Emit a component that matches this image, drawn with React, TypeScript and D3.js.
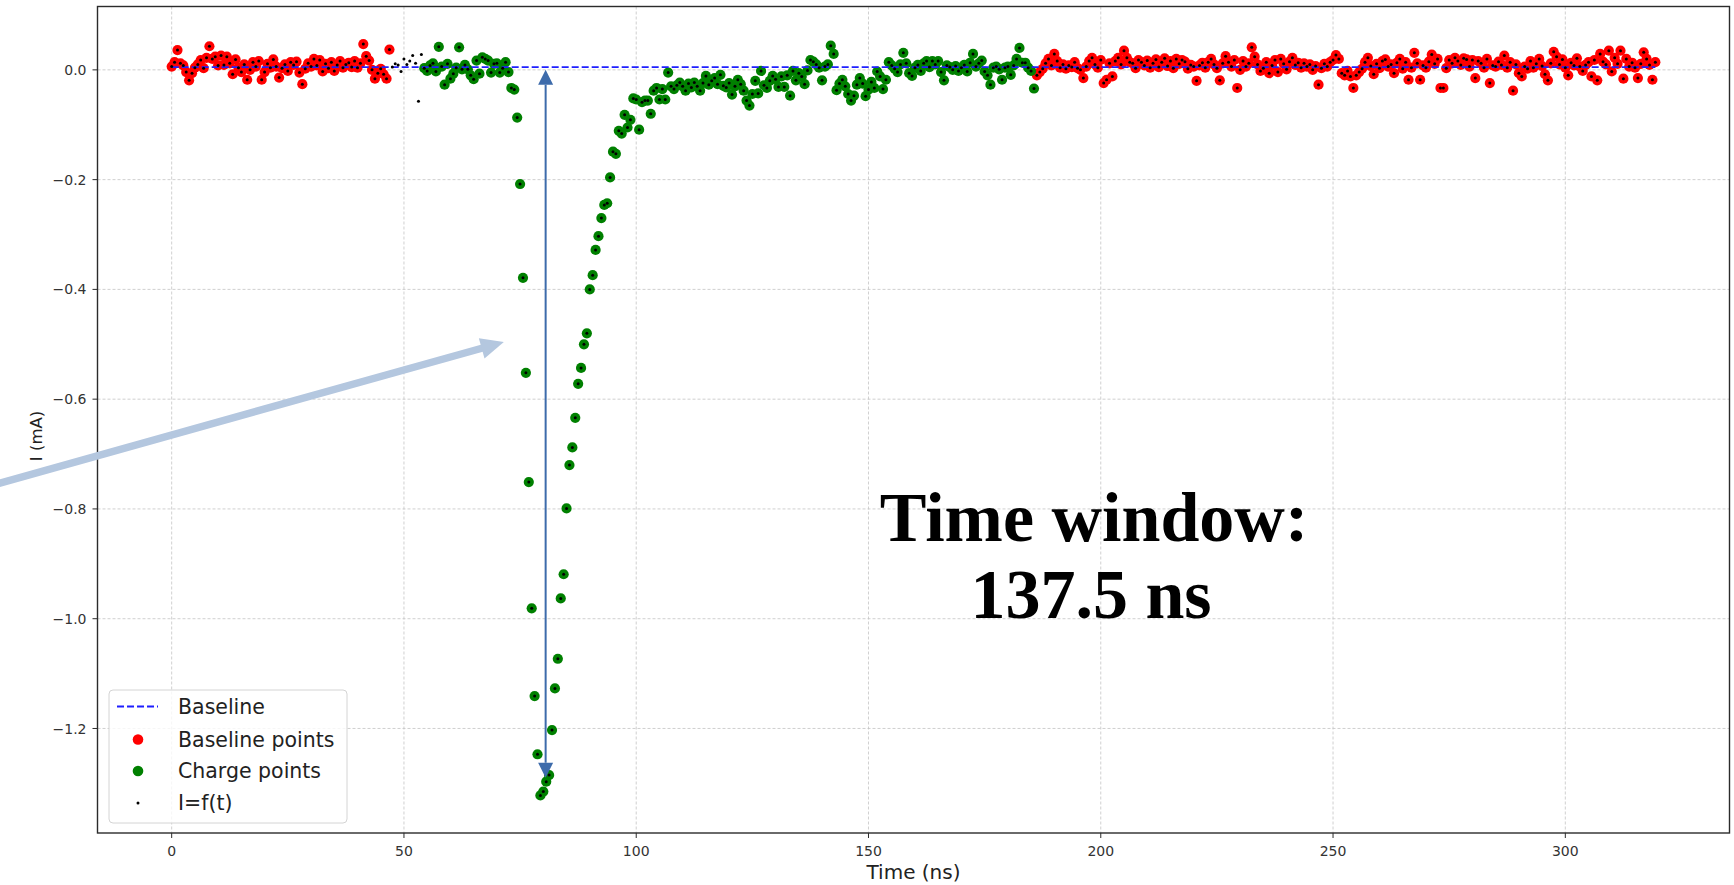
import React from "react";
import * as d3 from "d3";

// Oscilloscope trace of a single current pulse, sampled every 0.625 ns.
const SAMPLE_PERIOD_NS = 0.625;
const BASELINE_MA = 0.005;

// Samples before the integration window (baseline estimate, part 1)
const preBaseline = [
  0.006, 0.014, 0.036, 0.012, 0.008, -0.004, -0.019, -0.006, 0.004, 0.010,
  0.018, 0.003, 0.022, 0.043, 0.020, 0.024, 0.008, 0.026, 0.009, 0.024,
  0.012, -0.008, 0.019, 0.004, -0.004, 0.010, -0.018, 0.000, 0.014, 0.006,
  0.016, -0.018, -0.004, 0.011, 0.004, 0.019, 0.006, -0.014, 0.003, 0.010,
  -0.002, 0.014, 0.009, 0.015, -0.005, -0.026, 0.002, 0.012, 0.006, 0.020,
  0.008, 0.018, -0.003, 0.011, 0.003, 0.014, -0.002, 0.009, 0.016, 0.004,
  0.010, 0.013, 0.005, 0.016, 0.004, 0.012, 0.047, 0.025, 0.017, 0.000,
  -0.016, -0.006, 0.002, -0.008, -0.016, 0.037,
];

// Samples between the baseline region and the charge window (unclassified)
const transition = [
  0.005, 0.011, 0.009, -0.003, 0.020, 0.010, 0.016, 0.026, 0.012, -0.057, 0.028,
];

// Samples integrated as charge
const chargeValues = [
  0.003, -0.002, 0.008, 0.012, -0.003, 0.042, 0.006, -0.027, 0.011, -0.016,
  -0.007, 0.004, 0.041, 0.001, 0.009, 0.001, -0.010, -0.017, 0.017, -0.007,
  0.023, 0.020, 0.017, -0.005, 0.011, 0.012, -0.005, 0.003, 0.014, -0.004,
  -0.033, -0.036, -0.087, -0.208, -0.379, -0.552, -0.751, -0.981, -1.141, -1.247,
  -1.322, -1.315, -1.297, -1.285, -1.203, -1.127, -1.073, -0.963, -0.919, -0.799,
  -0.720, -0.688, -0.634, -0.572, -0.543, -0.500, -0.480, -0.400, -0.374, -0.328,
  -0.303, -0.270, -0.246, -0.243, -0.196, -0.149, -0.153, -0.111, -0.116, -0.082,
  -0.105, -0.091, -0.052, -0.054, -0.109, -0.059, -0.056, -0.056, -0.080, -0.038,
  -0.033, -0.054, -0.035, -0.054, -0.005, -0.030, -0.035, -0.028, -0.023, -0.030,
  -0.038, -0.025, -0.032, -0.023, -0.030, -0.038, -0.024, -0.011, -0.027, -0.020,
  -0.015, -0.026, -0.009, -0.029, -0.032, -0.024, -0.045, -0.030, -0.018, -0.026,
  -0.038, -0.056, -0.065, -0.044, -0.020, -0.043, -0.002, -0.028, -0.033, -0.020,
  -0.011, -0.017, -0.031, -0.012, -0.031, -0.010, -0.047, -0.002, -0.019, -0.006,
  -0.012, -0.026, -0.001, 0.018, 0.015, 0.010, 0.004, -0.019, 0.006, 0.010,
  0.044, 0.029, -0.037, -0.025, -0.018, -0.030, -0.044, -0.056, -0.047, -0.027,
  -0.015, -0.025, -0.048, -0.036, -0.022, -0.033, -0.003, -0.012, -0.035, -0.018,
  0.014, 0.008, 0.002, -0.004, 0.010, 0.031, 0.012, -0.006, -0.011, 0.004,
  0.009, -0.002, 0.012, 0.016, 0.005, 0.016, 0.010, 0.016, -0.004, -0.019,
  0.008, 0.005, 0.000, 0.007, -0.002, 0.004, 0.009, -0.003, 0.013, 0.029,
  0.006, 0.012, 0.017, -0.003, -0.010, -0.027, 0.004, 0.006, 0.001, -0.018,
  0.004, 0.006, -0.009, 0.008, 0.020, 0.040, 0.013, 0.013, 0.004, -0.002,
  -0.034,
];

// Samples after the integration window (baseline estimate, part 2)
const postBaseline = [
  -0.010, -0.004, 0.002, 0.012, 0.020, 0.008, 0.029, 0.016, 0.004, 0.010,
  0.002, 0.008, 0.005, 0.014, 0.003, 0.000, -0.015, 0.006, 0.016, 0.022,
  0.010, 0.004, 0.018, -0.024, -0.018, 0.012, -0.012, 0.016, 0.022, 0.010,
  0.035, 0.022, 0.014, 0.012, 0.003, 0.018, 0.014, 0.008, 0.017, 0.004,
  0.012, 0.019, 0.005, 0.014, 0.021, 0.007, 0.016, 0.003, 0.020, 0.011,
  0.018, 0.015, 0.002, 0.009, 0.006, -0.020, 0.008, 0.013, 0.004, 0.014,
  0.020, 0.010, 0.003, -0.019, 0.012, 0.025, 0.014, 0.006, 0.018, -0.033,
  0.000, 0.016, 0.006, 0.012, 0.041, 0.024, 0.010, -0.002, 0.003, 0.014,
  -0.006, 0.008, 0.018, -0.004, 0.020, 0.011, 0.001, 0.015, 0.022, 0.009,
  0.013, 0.004, 0.012, 0.006, 0.010, 0.000, 0.007, -0.027, 0.003, 0.011,
  0.006, 0.014, 0.018, 0.027, 0.020, -0.006, -0.010, -0.002, -0.012, -0.033,
  -0.010, -0.004, 0.002, 0.014, 0.022, 0.007, -0.008, 0.011, 0.003, 0.016,
  0.019, 0.006, 0.010, -0.006, 0.013, 0.020, 0.002, 0.014, -0.018, 0.004,
  0.031, 0.012, -0.018, 0.008, 0.004, 0.015, 0.028, 0.011, 0.020, -0.033,
  -0.033, 0.003, 0.018, 0.012, 0.022, 0.016, 0.009, 0.021, 0.019, 0.006,
  0.018, -0.015, 0.016, 0.012, 0.004, 0.020, -0.024, 0.008, 0.006, 0.015,
  0.009, 0.026, 0.004, 0.014, -0.038, 0.010, -0.006, -0.012, 0.006, 0.002,
  0.016, 0.004, 0.011, 0.020, 0.007, -0.008, -0.019, 0.012, 0.033, 0.024,
  0.010, 0.019, 0.004, -0.010, 0.013, 0.008, 0.021, 0.006, -0.002, 0.009,
  0.014, -0.012, 0.018, -0.019, 0.029, 0.015, 0.010, 0.035, -0.003, 0.022,
  0.011, 0.035, -0.016, 0.020, 0.006, 0.013, 0.004, -0.015, 0.011, 0.032,
  0.020, 0.009, -0.018, 0.014,
];

const xTicks = [0, 50, 100, 150, 200, 250, 300];
const yTicks = [0, -0.2, -0.4, -0.6, -0.8, -1.0, -1.2];
const legendLabels = ["Baseline", "Baseline points", "Charge points", "I=f(t)"];
const windowLabel = ["Time window:", "137.5 ns"];

// Annotation anchors in data units
const windowArrow = { t: 80.5, from: 0.0, to: -1.29 };
const pointerArrow = { fromT: -40, fromV: -0.76, toT: 71.5, toV: -0.496 };

type Kind = "base" | "gap" | "charge";
interface Sample { t: number; v: number; kind: Kind }

const samples: Sample[] = [];
[
  [preBaseline, "base"],
  [transition, "gap"],
  [chargeValues, "charge"],
  [postBaseline, "base"],
].forEach(([vals, kind]) => {
  (vals as number[]).forEach((v) => {
    samples.push({ t: samples.length * SAMPLE_PERIOD_NS, v, kind: kind as Kind });
  });
});

const W = 1734;
const H = 885;
const plot = { left: 97.5, right: 1729.5, top: 6.5, bottom: 833 };

function padded([a, b]: [number, number]): [number, number] {
  const m = (b - a) * 0.05;
  return [a - m, b + m];
}

const xScale = d3
  .scaleLinear()
  .domain(padded(d3.extent(samples, (d) => d.t) as [number, number]))
  .range([plot.left, plot.right]);
const yScale = d3
  .scaleLinear()
  .domain(padded(d3.extent(samples, (d) => d.v) as [number, number]))
  .range([plot.bottom, plot.top]);

const fmtTick = (v: number) => (v < 0 ? "\u2212" + Math.abs(v).toFixed(1) : v.toFixed(1));

const SANS = "'DejaVu Sans', sans-serif";
const RED = "#ff0000";
const GREEN = "#008000";
const BLUE = "#1f1fff";
const MARKER_R = 5.1;

function arrowHead(tipX: number, tipY: number, angle: number, len: number, width: number) {
  const ux = Math.cos(angle);
  const uy = Math.sin(angle);
  const bx = tipX - ux * len;
  const by = tipY - uy * len;
  const nx = -uy * (width / 2);
  const ny = ux * (width / 2);
  return `${tipX},${tipY} ${bx + nx},${by + ny} ${bx - nx},${by - ny}`;
}

export default function App() {
  const tMin = samples[0].t;
  const tMax = samples[samples.length - 1].t;

  // window arrow
  const wx = xScale(windowArrow.t);
  const wTop = yScale(windowArrow.from);
  const wBot = yScale(windowArrow.to);
  const headLen = 15;
  const headW = 15;

  // pointer arrow
  const px0 = xScale(pointerArrow.fromT);
  const py0 = yScale(pointerArrow.fromV);
  const px1 = xScale(pointerArrow.toT);
  const py1 = yScale(pointerArrow.toV);
  const pAng = Math.atan2(py1 - py0, px1 - px0);
  const pHeadLen = 23;
  const pHeadW = 21;

  const legendX = 109;
  const legendY = 690;
  const rowY = [706.5, 739.5, 771, 803];

  return (
    <svg
      width={W}
      height={H}
      style={{ position: "absolute", left: 0, top: 0, background: "#fff" }}
      fontFamily={SANS}
    >
      <defs>
        <clipPath id="plot-area">
          <rect x={plot.left} y={plot.top} width={plot.right - plot.left} height={plot.bottom - plot.top} />
        </clipPath>
      </defs>
      <rect x={0} y={0} width={W} height={H} fill="#fff" />

      {/* grid */}
      <g stroke="#c4c4c4" strokeWidth={0.8} strokeDasharray="3,2">
        {xTicks.map((t) => (
          <line key={`gx${t}`} x1={xScale(t)} x2={xScale(t)} y1={plot.top} y2={plot.bottom} />
        ))}
        {yTicks.map((v) => (
          <line key={`gy${v}`} x1={plot.left} x2={plot.right} y1={yScale(v)} y2={yScale(v)} />
        ))}
      </g>

      <g clipPath="url(#plot-area)">
        {samples
          .filter((d) => d.kind === "base")
          .map((d, i) => (
            <circle key={`r${i}`} cx={xScale(d.t)} cy={yScale(d.v)} r={MARKER_R} fill={RED} />
          ))}
        {samples
          .filter((d) => d.kind === "charge")
          .map((d, i) => (
            <circle key={`g${i}`} cx={xScale(d.t)} cy={yScale(d.v)} r={MARKER_R} fill={GREEN} />
          ))}
        <line
          x1={xScale(tMin)}
          x2={xScale(tMax)}
          y1={yScale(BASELINE_MA)}
          y2={yScale(BASELINE_MA)}
          stroke={BLUE}
          strokeWidth={1.8}
          strokeDasharray="7,3"
        />
        {samples.map((d, i) => (
          <circle key={`k${i}`} cx={xScale(d.t)} cy={yScale(d.v)} r={1.5} fill="#000" />
        ))}
      </g>

      {/* spines */}
      <rect
        x={plot.left}
        y={plot.top}
        width={plot.right - plot.left}
        height={plot.bottom - plot.top}
        fill="none"
        stroke="#2b2b2b"
        strokeWidth={1.4}
      />

      {/* x ticks */}
      {xTicks.map((t) => (
        <g key={`xt${t}`}>
          <line x1={xScale(t)} x2={xScale(t)} y1={plot.bottom} y2={plot.bottom + 5} stroke="#2b2b2b" strokeWidth={1} />
          <text x={xScale(t)} y={plot.bottom + 23} textAnchor="middle" fontSize={14} fill="#333">
            {t}
          </text>
        </g>
      ))}
      {/* y ticks */}
      {yTicks.map((v) => (
        <g key={`yt${v}`}>
          <line x1={plot.left - 5} x2={plot.left} y1={yScale(v)} y2={yScale(v)} stroke="#2b2b2b" strokeWidth={1} />
          <text x={plot.left - 11} y={yScale(v)} dy="0.36em" textAnchor="end" fontSize={14} fill="#333">
            {fmtTick(v)}
          </text>
        </g>
      ))}

      <text x={(plot.left + plot.right) / 2} y={879} textAnchor="middle" fontSize={20} fill="#222">
        Time (ns)
      </text>
      <text transform={`translate(42,436) rotate(-90)`} textAnchor="middle" fontSize={16.5} fill="#222">
        I (mA)
      </text>

      {/* legend */}
      <g>
        <rect
          x={legendX}
          y={legendY}
          width={238}
          height={133}
          rx={4}
          fill="#fff"
          fillOpacity={0.8}
          stroke="#d4d4d4"
          strokeWidth={1}
        />
        <line x1={117} x2={158} y1={rowY[0]} y2={rowY[0]} stroke={BLUE} strokeWidth={1.8} strokeDasharray="7,3" />
        <circle cx={138} cy={rowY[1]} r={5.3} fill={RED} />
        <circle cx={138} cy={rowY[2]} r={5.3} fill={GREEN} />
        <circle cx={138} cy={rowY[3]} r={1.5} fill="#000" />
        {legendLabels.map((s, i) => (
          <text key={s} x={178} y={rowY[i]} dy="0.36em" fontSize={20.5} fill="#222">
            {s}
          </text>
        ))}
      </g>

      {/* integration window arrow */}
      <g fill="#3d6bab" stroke="none">
        <line x1={wx} x2={wx} y1={wTop + headLen} y2={wBot - headLen} stroke="#3d6bab" strokeWidth={2} />
        <polygon points={arrowHead(wx, wTop, -Math.PI / 2, headLen, headW)} />
        <polygon points={arrowHead(wx, wBot, Math.PI / 2, headLen, headW)} />
      </g>

      <text
        x={1094}
        y={541}
        textAnchor="middle"
        fontFamily="'Liberation Serif', 'Times New Roman', serif"
        fontWeight="bold"
        fontSize={70}
        fill="#000"
      >
        {windowLabel[0]}
      </text>
      <text
        x={1091}
        y={618}
        textAnchor="middle"
        fontFamily="'Liberation Serif', 'Times New Roman', serif"
        fontWeight="bold"
        fontSize={70}
        fill="#000"
      >
        {windowLabel[1]}
      </text>

      {/* pointer arrow */}
      <g fill="#b4c7df">
        <line
          x1={px0}
          y1={py0}
          x2={px1 - Math.cos(pAng) * (pHeadLen - 2)}
          y2={py1 - Math.sin(pAng) * (pHeadLen - 2)}
          stroke="#b4c7df"
          strokeWidth={7.5}
        />
        <polygon points={arrowHead(px1, py1, pAng, pHeadLen, pHeadW)} />
      </g>
    </svg>
  );
}
